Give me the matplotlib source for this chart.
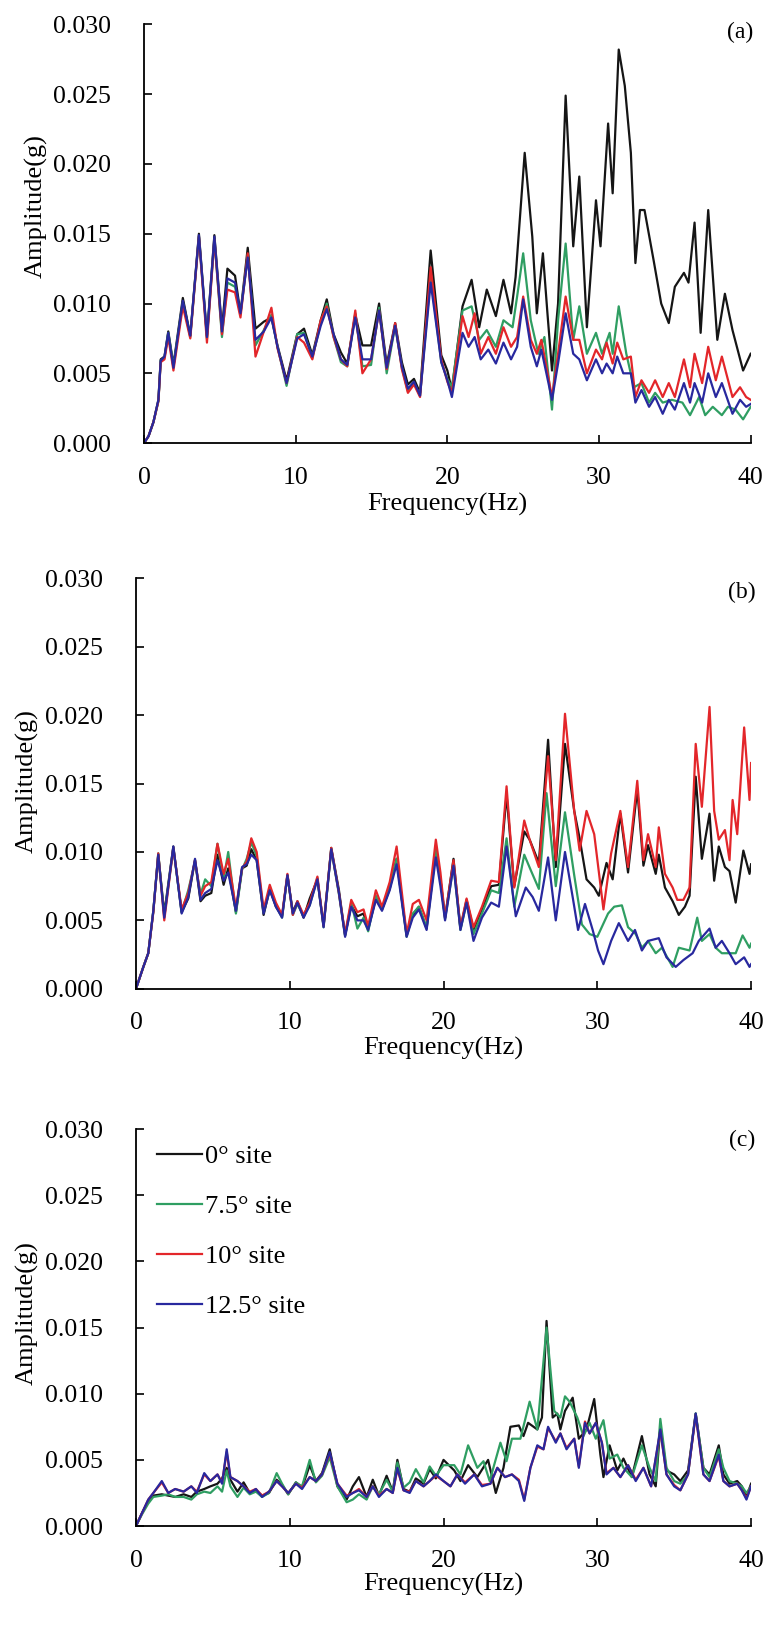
import matplotlib.pyplot as plt

# Amplitudes are in units of 0.001 g; frequencies in Hz.

# ---- panel (a) ----
a_freq_low = [0, 0.3, 0.62, 0.95, 1.1, 1.35, 1.6, 1.94, 2.56, 3.05, 3.62, 4.15, 4.64, 5.14, 5.5,
              6.0, 6.36, 6.84, 7.35, 7.9, 8.4, 8.8, 9.4, 10.1, 10.55, 11.1, 11.65, 12.05, 12.5,
              12.98, 13.4, 13.93, 14.4, 14.97, 15.5, 16.0, 16.56, 17.0, 17.4, 17.8, 18.2, 18.9,
              19.6, 20.0]
a_black_low = [0, 0.5, 1.5, 3.1, 6.0, 6.2, 8.0, 5.6, 10.4, 7.7, 15.0, 7.7, 14.9, 8.2, 12.5,
               12.0, 9.3, 14.0, 8.2, 8.7, 9.0, 7.0, 4.5, 7.8, 8.2, 6.3, 8.8, 10.3, 7.8, 6.5,
               5.7, 9.2, 7.0, 7.0, 10.0, 5.6, 8.6, 5.8, 4.2, 4.6, 3.6, 13.8, 6.3, 5.2]
a_green_low = [0, 0.5, 1.5, 3.0, 5.9, 6.1, 7.9, 5.5, 10.1, 7.6, 14.8, 7.5, 14.6, 7.6, 11.5,
               11.2, 9.2, 13.5, 7.0, 8.1, 9.2, 6.9, 4.1, 7.8, 7.9, 6.1, 8.6, 10.0, 7.6, 5.8,
               5.5, 9.3, 5.5, 5.6, 9.7, 5.0, 8.4, 5.4, 3.7, 4.3, 3.4, 12.0, 5.8, 4.6]
a_red_low = [0, 0.5, 1.5, 3.0, 5.8, 6.0, 7.6, 5.2, 9.8, 7.5, 14.8, 7.2, 14.6, 7.8, 11.0,
             10.8, 9.0, 13.6, 6.2, 8.0, 9.7, 6.8, 4.3, 7.6, 7.2, 6.0, 8.8, 9.8, 7.6, 6.0,
             5.5, 9.5, 5.0, 6.0, 9.5, 5.3, 8.6, 5.3, 3.6, 4.2, 3.3, 12.6, 6.0, 4.4]
a_blue_low = [0, 0.5, 1.5, 3.1, 5.9, 6.2, 7.9, 5.4, 10.2, 7.7, 14.9, 7.6, 14.8, 8.0, 11.8,
              11.5, 9.3, 13.3, 7.4, 8.0, 9.0, 6.9, 4.3, 7.5, 7.8, 6.2, 8.4, 9.6, 7.8, 6.0,
              5.6, 9.0, 6.0, 6.0, 9.5, 5.4, 8.4, 5.5, 3.9, 4.4, 3.4, 11.5, 5.8, 4.5]

a_black_freq_high = [20.3, 21.0, 21.6, 22.1, 22.6, 23.2, 23.7, 24.2, 24.5, 25.1, 25.6, 25.9, 26.3,
                     26.6, 26.9, 27.3, 27.8, 28.3, 28.7, 29.2, 29.8, 30.1, 30.6, 30.9, 31.3, 31.7,
                     32.1, 32.4, 32.7, 33.0, 33.6, 34.1, 34.6, 35.0, 35.6, 35.9, 36.3, 36.7, 37.2,
                     37.8, 38.3, 38.8, 39.5, 40.0]
a_black_high = [3.8, 9.8, 11.7, 8.3, 11.0, 9.1, 11.7, 9.3, 11.9, 20.8, 14.8, 9.3, 13.6, 9.3, 5.2,
                10.0, 24.9, 14.1, 19.1, 8.3, 17.4, 14.1, 22.9, 17.9, 28.2, 25.6, 20.8, 12.9, 16.7,
                16.7, 13.1, 10.0, 8.6, 11.2, 12.2, 11.5, 15.8, 7.9, 16.7, 7.4, 10.7, 8.1, 5.2, 6.4]
a_green_freq_high = [20.3, 21.0, 21.6, 22.1, 22.6, 23.2, 23.7, 24.3, 24.6, 25.0, 25.5, 26.0, 26.4,
                     26.9, 27.3, 27.8, 28.3, 28.7, 29.2, 29.8, 30.2, 30.7, 30.9, 31.3, 31.8, 32.3,
                     32.8, 33.3, 33.7, 34.2, 34.8, 35.5, 36.0, 36.6, 37.0, 37.5, 38.1, 38.5, 39.0,
                     39.5, 40.0]
a_green_high = [4.0, 9.5, 9.8, 7.4, 8.1, 6.9, 8.8, 8.3, 10.5, 13.6, 8.8, 6.4, 7.6, 2.4, 8.8, 14.3,
                7.4, 9.8, 6.4, 7.9, 6.4, 7.9, 6.4, 9.8, 6.4, 4.0, 4.3, 2.9, 3.6, 2.9, 3.1, 2.9,
                2.0, 3.3, 2.0, 2.6, 2.0, 2.6, 2.4, 1.7, 2.6]
a_rb_freq_high = [20.3, 21.0, 21.4, 21.8, 22.2, 22.7, 23.2, 23.7, 24.2, 24.6, 25.0, 25.5, 25.9,
                  26.2, 26.9, 27.3, 27.8, 28.3, 28.7, 29.2, 29.8, 30.2, 30.5, 30.9, 31.2, 31.6,
                  32.1, 32.4, 32.8, 33.3, 33.7, 34.2, 34.6, 35.0, 35.6, 36.0, 36.3, 36.8, 37.2,
                  37.7, 38.1, 38.8, 39.3, 39.7, 40.0]
a_red_high = [3.6, 9.1, 7.6, 9.3, 6.4, 7.6, 6.4, 8.3, 6.9, 7.6, 10.5, 7.4, 6.4, 7.4, 3.3, 6.4,
              10.5, 7.4, 7.4, 5.0, 6.7, 6.0, 7.2, 5.7, 7.2, 6.0, 6.2, 3.3, 4.5, 3.6, 4.5, 3.3,
              4.3, 3.3, 6.0, 4.0, 6.4, 4.3, 6.9, 4.5, 6.2, 3.3, 4.0, 3.3, 3.1]
a_blue_high = [3.3, 7.9, 6.9, 7.6, 6.0, 6.7, 5.7, 7.2, 6.0, 6.9, 10.3, 6.9, 5.5, 6.7, 3.1, 5.7,
               9.3, 6.4, 6.0, 4.5, 6.0, 5.0, 5.7, 5.0, 6.2, 5.0, 5.0, 2.9, 3.8, 2.6, 3.3, 2.1,
               3.1, 2.4, 4.3, 2.9, 4.3, 2.9, 5.0, 3.3, 4.3, 2.1, 3.1, 2.6, 2.8]

# ---- panel (b) ----
b_freq_low = [0, 0.48, 0.8, 1.13, 1.45, 1.84, 2.43, 2.97, 3.4, 3.84, 4.2, 4.5, 4.9, 5.3, 5.7,
              6.0, 6.5, 6.9, 7.2, 7.5, 7.85, 8.3, 8.7, 9.1, 9.5, 9.85, 10.2, 10.5, 10.9, 11.3,
              11.8, 12.2, 12.7, 13.2, 13.6, 14.0, 14.4, 14.8, 15.1, 15.6, 16.0, 16.5, 16.95,
              17.6, 18.0, 18.4, 18.9, 19.5, 19.8]
b_black_low = [0, 1.6, 2.6, 5.7, 9.8, 5.5, 10.4, 5.6, 6.6, 9.4, 6.4, 6.8, 7.0, 9.8, 7.6, 8.8,
               5.6, 8.8, 9.0, 10.2, 9.4, 5.4, 7.3, 6.0, 5.3, 8.3, 5.6, 6.4, 5.2, 6.6, 8.0, 4.6,
               10.3, 7.2, 3.9, 6.1, 5.3, 5.5, 4.4, 6.6, 5.8, 7.3, 9.5, 3.9, 5.4, 6.0, 4.4, 10.1, 8.0]
b_green_low = [0, 1.6, 2.6, 5.7, 9.9, 5.3, 10.3, 5.6, 7.2, 9.3, 6.9, 8.0, 7.5, 10.6, 8.0, 10.0,
               5.5, 8.7, 9.5, 10.7, 9.7, 5.6, 7.3, 6.1, 5.2, 8.3, 5.4, 6.2, 5.3, 6.1, 8.1, 4.5,
               10.2, 6.9, 3.9, 6.3, 4.4, 5.2, 4.2, 6.8, 5.8, 7.4, 9.5, 3.8, 5.5, 6.0, 4.5, 10.2, 8.0]
b_red_low = [0, 1.6, 2.6, 5.6, 9.9, 5.0, 10.3, 5.8, 7.0, 9.4, 6.8, 7.5, 7.8, 10.6, 8.4, 9.5,
             5.9, 8.8, 9.3, 11.0, 10.0, 5.8, 7.6, 6.3, 5.4, 8.4, 5.4, 6.4, 5.4, 6.3, 8.2, 4.6,
             10.3, 7.0, 4.0, 6.5, 5.6, 5.8, 4.6, 7.2, 6.0, 7.8, 10.4, 4.0, 6.2, 6.5, 5.0, 10.9, 8.5]
b_blue_low = [0, 1.6, 2.6, 5.7, 9.8, 5.2, 10.4, 5.5, 6.7, 9.5, 6.5, 7.0, 7.3, 9.4, 7.9, 8.5,
              5.7, 8.9, 9.1, 9.8, 9.4, 5.5, 7.2, 6.0, 5.2, 8.3, 5.5, 6.3, 5.2, 6.1, 8.0, 4.5,
              10.2, 7.0, 3.8, 6.0, 5.0, 5.0, 4.3, 6.5, 5.7, 7.2, 9.1, 3.8, 5.2, 5.8, 4.3, 9.6, 7.5]

b_black_freq_high = [20.1, 20.65, 21.1, 21.5, 21.95, 22.5, 23.1, 23.6, 24.1, 24.6, 25.25, 25.6,
                     26.2, 26.8, 27.3, 27.9, 28.5, 28.85, 29.3, 29.8, 30.1, 30.6, 31.0, 31.5, 32.0,
                     32.6, 33.0, 33.3, 33.8, 34.0, 34.4, 34.9, 35.3, 35.7, 36.0, 36.4, 36.8, 37.3,
                     37.6, 37.9, 38.3, 38.6, 39.0, 39.5, 39.9, 40.0]
b_black_high = [5.2, 9.5, 4.4, 6.5, 4.3, 5.8, 7.5, 7.6, 14.2, 7.5, 11.5, 10.9, 9.2, 18.2, 8.9,
                17.9, 13.0, 11.0, 8.0, 7.4, 6.8, 9.2, 8.0, 12.8, 8.5, 14.6, 9.0, 10.5, 8.4, 9.8,
                7.4, 6.4, 5.4, 6.0, 6.8, 15.5, 9.5, 12.8, 7.9, 10.4, 8.9, 8.6, 6.3, 10.1, 8.4, 9.1]
b_green_freq_high = [20.1, 20.65, 21.1, 21.5, 21.95, 22.5, 23.1, 23.6, 24.1, 24.6, 25.25, 25.7,
                     26.2, 26.7, 27.3, 27.9, 28.5, 29.0, 29.5, 30.0, 30.7, 31.1, 31.6, 32.0, 32.5,
                     32.9, 33.3, 33.8, 34.2, 34.9, 35.3, 36.0, 36.5, 36.8, 37.3, 37.7, 38.1, 38.6,
                     39.0, 39.45, 39.9, 40.0]
b_green_high = [5.1, 9.0, 4.3, 6.3, 4.0, 5.5, 7.2, 7.0, 11.0, 6.0, 9.8, 8.6, 7.3, 14.3, 7.5,
                12.9, 8.3, 4.7, 4.0, 3.8, 5.5, 6.0, 6.1, 4.5, 4.0, 3.0, 3.5, 2.6, 3.0, 1.6, 3.0,
                2.8, 5.2, 3.5, 4.0, 3.0, 2.6, 2.6, 2.6, 3.9, 3.0, 3.3]
b_red_freq_high = [20.1, 20.65, 21.1, 21.5, 21.95, 22.5, 23.1, 23.6, 24.1, 24.6, 25.25, 25.6,
                   26.2, 26.8, 27.3, 27.9, 28.5, 28.85, 29.3, 29.8, 30.4, 30.9, 31.5, 32.0, 32.6,
                   33.0, 33.3, 33.8, 34.0, 34.4, 34.9, 35.2, 35.6, 36.0, 36.4, 36.8, 37.3, 37.6,
                   37.9, 38.3, 38.6, 38.8, 39.1, 39.55, 39.9, 40.0]
b_red_high = [5.2, 9.4, 4.5, 6.6, 4.5, 6.0, 7.9, 7.8, 14.8, 7.4, 12.3, 10.9, 8.9, 17.0, 9.4,
              20.1, 13.0, 10.1, 13.0, 11.3, 5.8, 9.9, 13.0, 8.9, 15.2, 9.4, 11.3, 8.9, 11.8, 8.4,
              7.4, 6.5, 6.5, 7.4, 17.9, 13.3, 20.6, 13.0, 10.9, 11.6, 9.4, 13.8, 11.3, 19.1,
              13.8, 16.5]
b_blue_freq_high = [20.1, 20.65, 21.1, 21.5, 21.95, 22.5, 23.1, 23.6, 24.1, 24.7, 25.35, 25.8,
                    26.2, 26.8, 27.3, 27.9, 28.4, 28.75, 29.2, 29.7, 30.05, 30.4, 30.9, 31.4, 32.0,
                    32.45, 32.9, 33.3, 34.0, 34.5, 35.1, 35.6, 36.2, 36.6, 37.3, 37.7, 38.1, 38.6,
                    39.0, 39.55, 39.9, 40.0]
b_blue_high = [5.0, 9.0, 4.3, 6.3, 3.5, 5.2, 6.3, 6.0, 10.4, 5.3, 7.4, 6.7, 5.7, 9.6, 5.0,
               10.0, 6.7, 4.3, 6.2, 4.3, 2.8, 1.8, 3.5, 4.8, 3.5, 4.3, 2.8, 3.5, 3.7, 2.3, 1.6,
               2.1, 2.6, 3.5, 4.4, 3.0, 3.5, 2.6, 1.8, 2.3, 1.6, 1.8]

# ---- panel (c) ----
c_freq_low = [0, 0.4, 0.8, 1.13, 1.68, 2.1, 2.55, 3.1, 3.6, 3.96, 4.44, 4.84, 5.3, 5.6, 5.9,
              6.14, 6.6, 7.0, 7.4, 7.8, 8.2, 8.65, 9.15, 9.5, 9.9, 10.4, 10.8, 11.3, 11.7, 12.1,
              12.6, 13.1, 13.7, 14.1, 14.5, 15.0, 15.4, 15.8, 16.3, 16.7, 17.0, 17.4, 17.8,
              18.2, 18.7, 19.1, 19.5, 20.0]
c_black_low = [0, 1.0, 1.9, 2.3, 2.4, 2.3, 2.2, 2.4, 2.2, 2.6, 2.8, 3.0, 3.2, 3.6, 4.4, 3.5,
               2.6, 3.3, 2.5, 2.7, 2.3, 2.5, 3.5, 3.1, 2.4, 3.3, 2.9, 4.6, 3.4, 4.0, 5.8, 3.0,
               2.0, 3.0, 3.7, 2.2, 3.5, 2.3, 3.8, 2.6, 5.0, 2.8, 2.6, 3.6, 3.2, 4.3, 3.6, 5.0]
c_green_low = [0, 0.9, 1.7, 2.2, 2.3, 2.4, 2.2, 2.2, 2.0, 2.4, 2.6, 2.5, 3.0, 2.6, 4.2, 3.0,
               2.2, 2.9, 2.4, 2.6, 2.2, 2.5, 4.0, 3.2, 2.4, 3.3, 3.0, 5.0, 3.3, 3.8, 5.2, 3.0,
               1.8, 2.0, 2.4, 2.0, 3.0, 2.4, 3.5, 2.6, 4.8, 2.9, 3.3, 4.3, 3.3, 4.5, 3.8, 4.6]
c_red_low = [0, 1.0, 2.0, 2.5, 3.3, 2.5, 2.8, 2.6, 3.0, 2.6, 3.9, 3.4, 3.9, 3.3, 5.6, 3.7,
             3.4, 3.0, 2.6, 2.8, 2.3, 2.6, 3.4, 3.0, 2.5, 3.2, 2.9, 3.7, 3.4, 3.9, 5.5, 3.2,
             2.3, 2.5, 2.8, 2.2, 3.0, 2.3, 2.8, 2.5, 4.3, 2.7, 2.6, 3.4, 3.0, 3.4, 3.8, 3.4]
c_blue_low = [0, 1.0, 2.0, 2.5, 3.4, 2.5, 2.8, 2.6, 3.0, 2.5, 4.0, 3.4, 3.9, 3.2, 5.8, 3.7,
              3.4, 3.0, 2.5, 2.8, 2.2, 2.6, 3.4, 3.0, 2.5, 3.2, 2.8, 3.7, 3.4, 3.9, 5.6, 3.2,
              2.2, 2.5, 2.7, 2.2, 3.0, 2.2, 2.8, 2.5, 4.4, 2.7, 2.5, 3.4, 3.0, 3.4, 3.9, 3.4]

c_black_freq_high = [20.7, 21.1, 21.6, 22.2, 22.9, 23.4, 23.9, 24.35, 24.9, 25.2, 25.5, 26.1,
                     26.4, 26.7, 27.1, 27.4, 27.6, 27.9, 28.4, 28.8, 29.3, 29.8, 30.2, 30.4, 30.8,
                     31.3, 31.7, 32.25, 32.9, 33.4, 33.8, 34.1, 34.5, 35.0, 35.4, 35.9, 36.4,
                     36.9, 37.3, 37.9, 38.2, 38.6, 39.1, 39.4, 39.7, 40.0]
c_black_high = [4.2, 3.4, 4.6, 3.7, 5.0, 2.5, 4.4, 7.5, 7.6, 6.8, 7.8, 7.3, 8.2, 15.5, 8.2,
                8.5, 7.3, 8.7, 9.7, 6.6, 7.3, 9.6, 5.4, 3.7, 6.1, 4.2, 5.1, 3.7, 6.8, 3.9, 3.0,
                7.5, 4.2, 3.9, 3.4, 4.2, 8.5, 4.4, 3.9, 6.1, 3.9, 3.2, 3.4, 3.0, 2.2, 3.2]
c_green_freq_high = [20.7, 21.1, 21.6, 22.2, 22.6, 23.0, 23.7, 24.1, 24.45, 25.0, 25.6, 26.1,
                     26.7, 27.2, 27.6, 27.9, 28.2, 28.7, 29.1, 29.5, 29.9, 30.4, 30.8, 31.3, 31.7,
                     32.25, 32.9, 33.4, 33.8, 34.1, 34.5, 35.0, 35.4, 35.9, 36.4, 36.9, 37.3,
                     37.9, 38.2, 38.6, 39.1, 39.4, 39.7, 40.0]
c_green_high = [4.6, 3.9, 6.1, 4.4, 4.9, 3.4, 6.3, 4.9, 6.6, 6.6, 9.4, 7.3, 15.0, 8.7, 8.2,
                9.8, 9.4, 8.2, 6.8, 7.8, 6.6, 8.0, 5.1, 5.4, 4.4, 3.7, 6.1, 4.4, 3.4, 8.1, 4.4,
                3.4, 3.2, 3.9, 8.5, 4.4, 3.7, 5.8, 4.4, 3.4, 3.2, 3.0, 2.5, 3.0]
c_rb_freq_high = [20.45, 20.9, 21.4, 22.0, 22.5, 23.05, 23.5, 24.0, 24.45, 24.9, 25.25, 25.65,
                  26.1, 26.5, 26.8, 27.3, 27.6, 28.0, 28.5, 28.8, 29.2, 29.5, 29.9, 30.3, 30.6,
                  31.05, 31.5, 32.0, 32.5, 33.0, 33.5, 34.1, 34.5, 35.0, 35.4, 35.9, 36.4, 36.9,
                  37.3, 37.9, 38.2, 38.6, 39.1, 39.4, 39.7, 40.0]
c_red_high = [3.0, 3.9, 3.3, 3.9, 3.1, 3.2, 4.4, 3.7, 3.9, 3.5, 2.0, 4.4, 6.0, 5.8, 7.4, 6.4,
              7.0, 5.9, 6.6, 4.5, 7.9, 7.0, 7.8, 6.3, 4.0, 4.4, 3.7, 4.6, 3.5, 4.4, 3.0, 7.2,
              3.9, 3.1, 2.7, 3.9, 8.4, 3.9, 3.4, 5.3, 3.4, 3.0, 3.2, 2.7, 2.1, 3.0]
c_blue_high = [3.0, 3.9, 3.2, 3.9, 3.0, 3.2, 4.4, 3.7, 3.9, 3.4, 1.9, 4.4, 6.1, 5.8, 7.5, 6.3,
               7.0, 5.8, 6.6, 4.4, 7.8, 7.0, 7.8, 6.3, 3.9, 4.4, 3.7, 4.6, 3.4, 4.4, 3.0, 7.3,
               3.9, 3.0, 2.7, 3.9, 8.5, 3.9, 3.4, 5.4, 3.4, 3.0, 3.2, 2.7, 2.0, 3.0]

site_labels = ["0\u00b0 site", "7.5\u00b0 site", "10\u00b0 site", "12.5\u00b0 site"]
site_colors = ["#151515", "#2f9e62", "#e3262a", "#28289e"]
y_ticks = [0.000, 0.005, 0.010, 0.015, 0.020, 0.025, 0.030]
x_ticks = [0, 10, 20, 30, 40]

panels = [
    ("(a)", [
        (a_freq_low + a_black_freq_high, a_black_low + a_black_high),
        (a_freq_low + a_green_freq_high, a_green_low + a_green_high),
        (a_freq_low + a_rb_freq_high, a_red_low + a_red_high),
        (a_freq_low + a_rb_freq_high, a_blue_low + a_blue_high),
    ]),
    ("(b)", [
        (b_freq_low + b_black_freq_high, b_black_low + b_black_high),
        (b_freq_low + b_green_freq_high, b_green_low + b_green_high),
        (b_freq_low + b_red_freq_high, b_red_low + b_red_high),
        (b_freq_low + b_blue_freq_high, b_blue_low + b_blue_high),
    ]),
    ("(c)", [
        (c_freq_low + c_black_freq_high, c_black_low + c_black_high),
        (c_freq_low + c_green_freq_high, c_green_low + c_green_high),
        (c_freq_low + c_rb_freq_high, c_red_low + c_red_high),
        (c_freq_low + c_rb_freq_high, c_blue_low + c_blue_high),
    ]),
]

plt.rcParams["font.family"] = ["Liberation Serif", "DejaVu Serif"]
fig = plt.figure(figsize=(7.66, 16.29), dpi=100)

rects = [
    [0.188, 0.728, 0.792, 0.257],
    [0.1775, 0.393, 0.803, 0.252],
    [0.1775, 0.0632, 0.803, 0.2437],
]
ylabel_y = [0.565, 0.507, 0.537]
tag_xy = [(0.982, 0.981), (0.985, 0.966), (0.985, 0.972)]

for i, (tag, series) in enumerate(panels):
    axis = fig.add_axes(rects[i])
    for (freq, amp), color, label in zip(series, site_colors, site_labels):
        axis.plot(freq, [v / 1000 for v in amp], color=color, lw=1.6, label=label,
                  solid_joinstyle="round")

    axis.set_xlim(0, 40)
    axis.set_ylim(0, 0.030)
    axis.set_xticks(x_ticks)
    axis.set_yticks(y_ticks)
    axis.set_yticklabels([f"{t:.3f}" for t in y_ticks])
    for side in ("top", "right"):
        axis.spines[side].set_visible(False)
    for side in ("left", "bottom"):
        axis.spines[side].set_linewidth(1.3)
    axis.tick_params(axis="y", direction="in", length=6, width=1.2, labelsize=18.5, pad=24)
    axis.tick_params(axis="x", direction="in", length=6, width=1.2, labelsize=18.5, pad=17)

    axis.set_xlabel("Frequency(Hz)", fontsize=19)
    axis.set_ylabel("Amplitude(g)", fontsize=19)
    axis.xaxis.set_label_coords(0.5, -0.118)
    axis.yaxis.set_label_coords(-0.158, ylabel_y[i])
    axis.text(*tag_xy[i], tag, transform=axis.transAxes, ha="center", va="center", fontsize=17)

    if tag == "(c)":
        axis.legend(loc="upper left", bbox_to_anchor=(0.035, 0.96), frameon=False,
                    fontsize=19, handlelength=1.7, handletextpad=0.1, labelspacing=1.0,
                    borderpad=0, borderaxespad=0)

fig.savefig("out.png", dpi=100)
